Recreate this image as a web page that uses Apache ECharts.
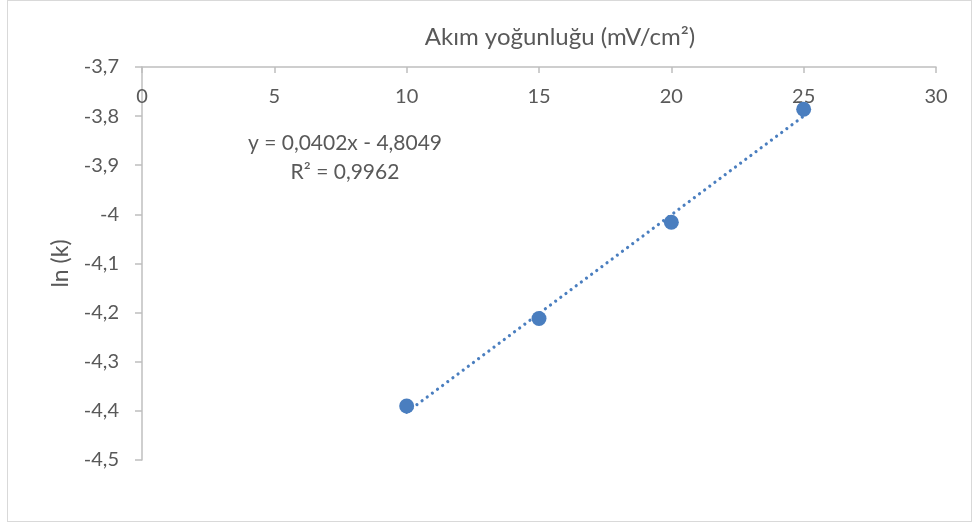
<!DOCTYPE html>
<html>
<head>
<meta charset="utf-8">
<script src="https://cdn.jsdelivr.net/npm/echarts@6/dist/echarts.min.js"></script>
<style>
  html, body { margin: 0; padding: 0; background: #fff; }
  #frame { position: absolute; left: 7px; top: 0; width: 965px; height: 522px; border: 1px solid #d9d9d9; box-sizing: border-box; }
  #chart { position: absolute; left: 0; top: 0; width: 974px; height: 524px; }
</style>
</head>
<body>
<div id="frame"></div>
<div id="chart"></div>
<script>
// Current density (x) against ln(k)
const currentDensity = [10, 15, 20, 25];
const lnK = [-4.390, -4.212, -4.016, -3.786];

// Linear trendline as reported by the fit
const slope = 0.0402;
const intercept = -4.8049;
const rSquared = 0.9962;
const trendRange = [10, 25];

const xTicks = { min: 0, max: 30, interval: 5 };
const yTicks = { min: -4.5, max: -3.7, interval: 0.1 };

const labelColor = '#595959';
const axisColor = '#bfbfbf';
const markColor = '#4a7ebf';
const font = 'Lato, "Open Sans", sans-serif';

const fmt = v => String(+v.toFixed(4)).replace('.', ',');

const points = currentDensity.map((x, i) => [x, lnK[i]]);
const trend = trendRange.map(x => [x, slope * x + intercept]);

const chart = echarts.init(document.getElementById('chart'));
chart.setOption({
  animation: false,
  grid: { left: 142, top: 67, right: 38, bottom: 64, containLabel: false },
  xAxis: {
    type: 'value', position: 'top',
    min: xTicks.min, max: xTicks.max, interval: xTicks.interval,
    name: 'Akım yoğunluğu (mV/cm²)',
    nameLocation: 'middle', nameGap: 18,
    nameTextStyle: { color: labelColor, fontSize: 24, fontFamily: font, padding: [0, 0, 0, 42] },
    axisLine: { onZero: false, lineStyle: { color: axisColor, width: 1.5 } },
    axisTick: { inside: true, length: 6, lineStyle: { color: axisColor, width: 1.5 } },
    axisLabel: { inside: true, margin: 20, color: labelColor, fontSize: 20, fontFamily: font },
    splitLine: { show: false }
  },
  yAxis: {
    type: 'value',
    min: yTicks.min, max: yTicks.max, interval: yTicks.interval,
    name: 'ln (k)',
    nameLocation: 'middle', nameGap: 70, nameRotate: 90,
    nameTextStyle: { color: labelColor, fontSize: 23, fontFamily: font },
    axisLine: { show: true, onZero: false, lineStyle: { color: axisColor, width: 1.5 } },
    axisTick: { show: true, length: 7, lineStyle: { color: axisColor, width: 1.5 } },
    axisLabel: { margin: 23, color: labelColor, fontSize: 20, fontFamily: font, formatter: fmt },
    splitLine: { show: false }
  },
  series: [
    {
      type: 'line', data: trend, symbol: 'none', silent: true,
      lineStyle: { color: markColor, width: 3.2, type: [0.01, 6.4], cap: 'round' },
      z: 2
    },
    {
      type: 'scatter', data: points, symbolSize: 15,
      itemStyle: { color: markColor, opacity: 1 },
      z: 3
    }
  ],
  graphic: [
    {
      type: 'text', x: 345, y: 143,
      style: {
        text: 'y = ' + fmt(slope) + 'x - ' + fmt(-intercept),
        fill: labelColor, font: '21px ' + font, align: 'center', verticalAlign: 'middle'
      }
    },
    {
      type: 'text', x: 345, y: 172,
      style: {
        text: 'R² = ' + fmt(rSquared),
        fill: labelColor, font: '21px ' + font, align: 'center', verticalAlign: 'middle'
      }
    }
  ]
});
</script>
</body>
</html>
